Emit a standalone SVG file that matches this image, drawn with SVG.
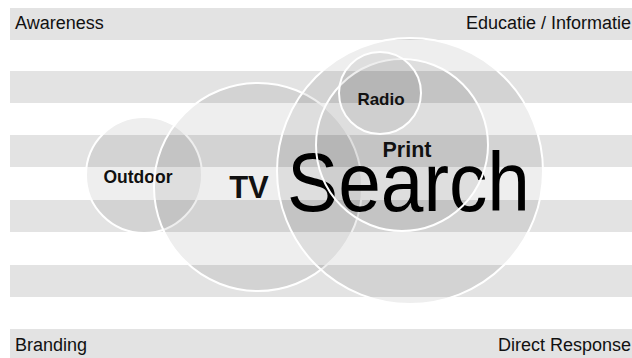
<svg xmlns="http://www.w3.org/2000/svg" width="632" height="358" viewBox="0 0 632 358">
<style>
.stripe{fill:#e3e3e3}
.c{fill:#000;fill-opacity:0.065;stroke:#fff;stroke-width:2}
.lbl{font-family:"Liberation Sans",Arial,sans-serif;font-size:18px;fill:#111}
.node{font-family:"Liberation Sans",Arial,sans-serif;font-weight:bold;fill:#111}
</style>
<rect width="632" height="358" fill="#fff"/>
<g id="stripes">
<rect class="stripe" x="10" y="8" width="622" height="32"/>
<rect class="stripe" x="10" y="71" width="622" height="32"/>
<rect class="stripe" x="10" y="135" width="622" height="32"/>
<rect class="stripe" x="10" y="200" width="622" height="32"/>
<rect class="stripe" x="10" y="265" width="622" height="32"/>
<rect class="stripe" x="10" y="329" width="622" height="32"/>
</g>
<g id="axis-labels">
<text class="lbl" x="15" y="29">Awareness</text>
<text class="lbl" x="631" y="29" text-anchor="end">Educatie / Informatie</text>
<text class="lbl" x="15" y="351">Branding</text>
<text class="lbl" x="631" y="351" text-anchor="end">Direct Response</text>
</g>
<g id="outdoor">
<circle class="c" cx="144" cy="175" r="58"/>
<text class="node" x="138" y="183" font-size="17.5" text-anchor="middle">Outdoor</text>
</g>
<g id="tv">
<circle class="c" cx="258" cy="187" r="104"/>
<text class="node" x="249" y="198" font-size="31" text-anchor="middle">TV</text>
</g>
<g id="search">
<circle class="c" cx="410" cy="171" r="133"/>
<text x="287" y="211" font-family="'Liberation Sans',Arial,sans-serif" font-size="83" fill="#000" textLength="243" lengthAdjust="spacingAndGlyphs">Search</text>
</g>
<g id="print">
<circle class="c" cx="402" cy="145" r="86"/>
<text class="node" x="407" y="157" font-size="21.5" text-anchor="middle">Print</text>
</g>
<g id="radio">
<circle class="c" cx="380" cy="93" r="41"/>
<text class="node" x="381" y="105" font-size="17" text-anchor="middle">Radio</text>
</g>
<g id="connectors"></g>
</svg>
